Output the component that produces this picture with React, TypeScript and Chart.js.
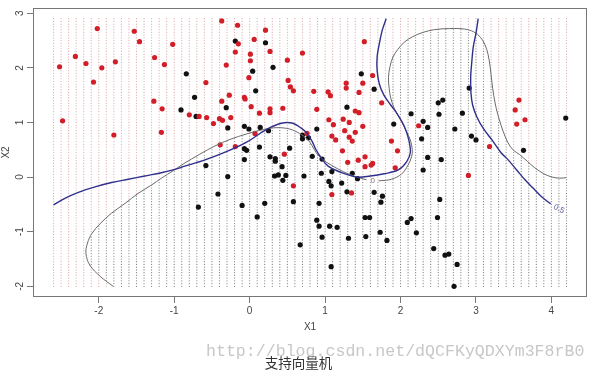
import React, { useEffect, useRef } from "react";
import { Chart, registerables } from "chart.js";
Chart.register(...registerables);

const xTicks = [-2, -1, 0, 1, 2, 3, 4];
const yTicks = [-2, -1, 0, 1, 2, 3];

const gridX = [
  -2.6, -2.5, -2.4, -2.3, -2.2, -2.1, -2, -1.9, -1.8, -1.7,
  -1.6, -1.5, -1.4, -1.3, -1.2, -1.1, -1, -0.9, -0.8, -0.7,
  -0.6, -0.5, -0.4, -0.3, -0.2, -0.1, 0, 0.1, 0.2, 0.3,
  0.4, 0.5, 0.6, 0.7, 0.8, 0.9, 1, 1.1, 1.2, 1.3,
  1.4, 1.5, 1.6, 1.7, 1.8, 1.9, 2, 2.1, 2.2, 2.3,
  2.4, 2.5, 2.6, 2.7, 2.8, 2.9, 3, 3.1, 3.2, 3.3,
  3.4, 3.5, 3.6, 3.7, 3.8, 3.9, 4, 4.1, 4.2,
];
const gridY = [
  -2, -1.95, -1.9, -1.85, -1.8, -1.75, -1.7, -1.65, -1.6, -1.55,
  -1.5, -1.45, -1.4, -1.35, -1.3, -1.25, -1.2, -1.15, -1.1, -1.05,
  -1, -0.95, -0.9, -0.85, -0.8, -0.75, -0.7, -0.65, -0.6, -0.55,
  -0.5, -0.45, -0.4, -0.35, -0.3, -0.25, -0.2, -0.15, -0.1, -0.05,
  0, 0.05, 0.1, 0.15, 0.2, 0.25, 0.3, 0.35, 0.4, 0.45,
  0.5, 0.55, 0.6, 0.65, 0.7, 0.75, 0.8, 0.85, 0.9, 0.95,
  1, 1.05, 1.1, 1.15, 1.2, 1.25, 1.3, 1.35, 1.4, 1.45,
  1.5, 1.55, 1.6, 1.65, 1.7, 1.75, 1.8, 1.85, 1.9, 1.95,
  2, 2.05, 2.1, 2.15, 2.2, 2.25, 2.3, 2.35, 2.4, 2.45,
  2.5, 2.55, 2.6, 2.65, 2.7, 2.75, 2.8, 2.85, 2.9,
];

const redPoints: [number, number][] = [
  [-2.02, 2.72], [-1.53, 2.67], [-1.46, 2.48], [-1.02, 2.43], [-2.31, 2.21],
  [-2.17, 2.08], [-2.52, 2.02], [-1.96, 2.0], [-1.78, 2.11], [-1.26, 2.19],
  [-1.13, 2.06], [-2.07, 1.74], [-1.27, 1.39], [-1.16, 1.25], [-2.48, 1.03],
  [-1.8, 0.77], [-1.17, 0.82], [-0.37, 2.86], [-0.16, 2.78], [0.21, 2.69],
  [0.06, 2.52], [-0.15, 2.44], [-0.19, 2.29], [0.27, 2.3], [0.01, 2.25],
  [0.01, 2.13], [0.5, 2.14], [0.7, 2.27], [-0.31, 2.05], [-0.01, 1.82],
  [0.51, 1.77], [0.54, 1.65], [0.58, 1.58], [0.85, 1.57], [-0.58, 1.73],
  [-0.27, 1.5], [-0.07, 1.46], [-0.06, 1.43], [-0.37, 1.39], [0.02, 1.29],
  [0.27, 1.25], [0.27, 1.18], [0.13, 1.17], [0.44, 1.26], [0.89, 1.24],
  [-0.8, 1.14], [-0.67, 1.11], [-0.57, 1.09], [-0.4, 1.07], [-0.36, 1.04],
  [-0.25, 1.09], [-0.48, 0.98], [-0.39, 0.59], [-0.19, 0.56], [0.07, 0.8],
  [0.46, 0.42], [0.76, 0.8], [1.52, 2.48], [1.63, 1.86], [1.5, 1.72],
  [1.28, 1.72], [1.28, 1.63], [1.45, 1.55], [1.04, 1.56], [1.07, 1.49],
  [1.75, 1.36], [1.4, 1.21], [1.45, 1.18], [1.05, 1.05], [1.24, 1.06],
  [1.32, 1.0], [1.11, 0.96], [1.5, 0.93], [1.26, 0.85], [1.4, 0.82],
  [1.09, 0.75], [1.14, 0.68], [1.32, 0.73], [1.36, 0.66], [1.88, 0.66],
  [2.24, 0.94], [1.23, 0.48], [1.96, 0.48], [3.57, 1.41], [3.52, 1.23],
  [3.65, 1.05], [3.54, 0.97], [3.18, 0.56], [1.53, 0.37], [1.44, 0.31],
  [1.3, 0.27], [1.53, 0.19], [1.61, 0.22], [1.63, 0.25], [1.93, 0.17],
  [1.09, -0.32], [1.35, -0.29], [0.58, -0.16], [2.9, 0.03],
];

const blackPoints: [number, number][] = [
  [-0.91, 1.23], [-0.19, 2.49], [0.21, 2.46], [0.31, 2.01], [0.04, 1.94],
  [-0.84, 1.89], [0.08, 1.58], [-0.73, 1.46], [-0.31, 1.27], [-0.71, 1.11],
  [-0.29, 0.9], [-0.07, 0.93], [-0.01, 0.88], [0.14, 0.91], [0.25, 0.85],
  [0.89, 0.88], [0.7, 0.77], [0.7, 0.7], [0.78, 0.72], [-0.07, 0.52],
  [-0.04, 0.49], [0.13, 0.55], [0.53, 0.53], [1.48, 1.89], [1.65, 1.61],
  [1.29, 1.28], [1.91, 0.97], [2.14, 1.16], [2.3, 1.02], [2.36, 0.91],
  [2.28, 0.7], [2.5, 1.36], [2.56, 1.41], [2.51, 1.15], [2.72, 0.88],
  [2.91, 1.63], [2.82, 1.17], [2.94, 0.75], [3.0, 0.68], [4.19, 1.08],
  [3.63, 0.49], [-0.58, 0.21], [-0.07, 0.32], [-0.29, 0.01], [-0.42, -0.31],
  [-0.68, -0.55], [-0.1, -0.52], [0.1, -0.73], [0.2, -0.48], [0.27, 0.37],
  [0.34, 0.34], [0.34, 0.29], [0.43, 0.19], [0.33, 0.02], [0.38, 0.04],
  [0.48, 0.03], [0.44, -0.06], [0.58, -0.45], [0.72, 0.02], [0.83, 0.38],
  [0.92, -0.48], [0.89, -0.79], [0.92, -0.9], [0.67, -1.24], [0.96, 0.33],
  [0.95, 0.07], [1.09, 0.1], [1.05, -0.08], [1.08, -0.16], [1.22, -0.11],
  [1.36, 0.07], [1.43, -0.03], [1.29, -0.27], [1.65, -0.28], [1.76, -0.35],
  [1.74, -0.46], [1.06, -0.9], [1.16, -0.92], [0.96, -1.1], [1.31, -1.12],
  [1.53, -0.74], [1.59, -0.74], [1.54, -1.09], [1.73, -1.01], [1.82, -1.16],
  [1.08, -1.64], [2.09, -0.83], [2.14, -0.76], [2.21, -1.02], [2.3, 0.13],
  [2.36, 0.36], [2.54, 0.32], [2.52, -0.41], [2.49, -0.74], [2.44, -1.31],
  [2.59, -1.43], [2.64, -1.41], [2.71, -2.0], [2.75, -1.6],
];

// SVM decision boundary (level 0), split where its "0" label sits
const svmBoundaryLeft: [number, number][] = [
  [-1.81, -2.0], [-1.98, -1.82], [-2.12, -1.61], [-2.17, -1.4], [-2.15, -1.21],
  [-2.09, -1.03], [-1.98, -0.85], [-1.83, -0.66], [-1.65, -0.48], [-1.48, -0.3],
  [-1.3, -0.145], [-1.17, -0.02], [-1.01, 0.12], [-0.88, 0.24], [-0.66, 0.42],
  [-0.46, 0.57], [-0.26, 0.69], [-0.04, 0.79], [0.18, 0.87], [0.36, 0.905],
  [0.53, 0.88], [0.66, 0.8], [0.76, 0.7], [0.83, 0.57], [0.88, 0.45],
  [0.96, 0.33], [1.08, 0.22], [1.24, 0.1], [1.4, 0.01], [1.55, -0.05],
];
const svmBoundaryRight: [number, number][] = [
  [1.71, -0.07], [1.88, -0.04], [2.015, 0.057], [2.1, 0.22], [2.147, 0.374],
  [2.156, 0.5], [2.13, 0.68], [2.08, 0.83], [2.0, 1.05], [1.92, 1.25],
  [1.87, 1.45], [1.85, 1.62], [1.84, 1.82], [1.86, 2.02], [1.9, 2.2],
  [1.96, 2.33], [2.05, 2.47], [2.16, 2.57], [2.3, 2.65], [2.45, 2.7],
  [2.65, 2.72], [2.85, 2.71], [2.97, 2.66], [3.06, 2.56], [3.12, 2.42],
  [3.16, 2.25], [3.19, 2.0], [3.21, 1.75], [3.235, 1.5], [3.27, 1.25],
  [3.31, 1.05], [3.36, 0.84], [3.42, 0.64], [3.49, 0.5], [3.58, 0.41],
  [3.68, 0.29], [3.78, 0.17], [3.9, 0.06], [4.01, 0.0], [4.11, -0.02], [4.2, -0.01],
];

// Bayes decision boundary (probability 0.5)
const bayesBoundaryLeft: [number, number][] = [
  [-2.6, -0.51], [-2.45, -0.39], [-2.27, -0.28], [-2.05, -0.18], [-1.83, -0.1],
  [-1.61, -0.04], [-1.39, 0.02], [-1.17, 0.08], [-0.99, 0.14], [-0.86, 0.2],
  [-0.6, 0.31], [-0.3, 0.47], [-0.04, 0.64], [0.22, 0.87], [0.42, 0.985],
  [0.56, 0.99], [0.68, 0.9], [0.76, 0.8], [0.83, 0.65], [0.88, 0.5],
  [0.95, 0.35], [1.04, 0.2], [1.22, 0.08], [1.42, 0.0], [1.6, 0.02],
  [1.78, 0.06], [1.97, 0.13], [2.08, 0.28], [2.13, 0.45], [2.11, 0.68],
  [2.05, 0.93], [1.96, 1.15], [1.87, 1.32], [1.78, 1.5], [1.72, 1.7],
  [1.69, 1.95], [1.69, 2.2], [1.72, 2.45], [1.76, 2.7], [1.81, 2.9],
];
const bayesBoundaryRight: [number, number][] = [
  [3.03, 2.9], [3.0, 2.63], [2.965, 2.39], [2.943, 2.08], [2.93, 1.84],
  [2.934, 1.54], [2.956, 1.32], [3.009, 1.11], [3.097, 0.89], [3.229, 0.65],
  [3.33, 0.45], [3.43, 0.31], [3.54, 0.13], [3.65, -0.05], [3.76, -0.205],
  [3.87, -0.36], [3.99, -0.49],
];

const labelSvm = { text: "0", x: 1.63, y: -0.07 };
const labelBayes = { text: "0.5", x: 4.1, y: -0.585 };

const svmBoundary = [...svmBoundaryLeft, ...svmBoundaryRight];
const blackRegion: [number, number][] = [
  ...svmBoundary,
  [4.6, -0.01],
  [4.6, -2.6],
  [-1.81, -2.6],
];

function inside(x: number, y: number, poly: [number, number][]) {
  let c = false;
  for (let i = 0, j = poly.length - 1; i < poly.length; j = i++) {
    const [xi, yi] = poly[i];
    const [xj, yj] = poly[j];
    if (yi > y !== yj > y && x < ((xj - xi) * (y - yi)) / (yj - yi) + xi) c = !c;
  }
  return c;
}

const toXY = (arr: [number, number][]) => arr.map(([x, y]) => ({ x, y }));

const FONT = "'Liberation Sans', Arial, sans-serif";

const framePlugin = {
  id: "frame",
  afterDatasetsDraw(chart: any) {
    const { ctx, chartArea: a, scales } = chart;
    ctx.save();
    ctx.strokeStyle = "#777";
    ctx.lineWidth = 1;
    ctx.strokeRect(a.left + 0.5, a.top + 0.5, a.right - a.left - 1, a.bottom - a.top - 1);
    ctx.font = "8px " + FONT;
    ctx.textAlign = "center";
    ctx.textBaseline = "middle";
    ctx.fillStyle = "#777";
    ctx.fillText(labelSvm.text, scales.x.getPixelForValue(labelSvm.x), scales.y.getPixelForValue(labelSvm.y));
    ctx.translate(scales.x.getPixelForValue(labelBayes.x), scales.y.getPixelForValue(labelBayes.y));
    ctx.rotate(0.45);
    ctx.fillStyle = "#5a5aa0";
    ctx.fillText(labelBayes.text, 0, 0);
    ctx.restore();
  },
};

export default function App() {
  const ref = useRef<HTMLCanvasElement>(null);
  useEffect(() => {
    const redGrid: { x: number; y: number }[] = [];
    const blackGrid: { x: number; y: number }[] = [];
    for (const gx of gridX) {
      for (const gy of gridY) {
        (inside(gx, gy, blackRegion) ? blackGrid : redGrid).push({ x: gx, y: gy });
      }
    }
    const chart = new Chart(ref.current as HTMLCanvasElement, {
      type: "scatter",
      data: {
        datasets: [
          {
            data: toXY(bayesBoundaryLeft), showLine: true, borderColor: "#30308c", borderWidth: 1.4,
            pointRadius: 0, tension: 0.35, order: 1,
          },
          {
            data: toXY(bayesBoundaryRight), showLine: true, borderColor: "#30308c", borderWidth: 1.4,
            pointRadius: 0, tension: 0.35, order: 1,
          },
          {
            data: toXY(svmBoundaryLeft), showLine: true, borderColor: "#6a6a6a", borderWidth: 1,
            pointRadius: 0, tension: 0.35, order: 2,
          },
          {
            data: toXY(svmBoundaryRight), showLine: true, borderColor: "#6a6a6a", borderWidth: 1,
            pointRadius: 0, tension: 0.35, order: 2,
          },
          {
            data: toXY(redPoints), backgroundColor: "rgb(210,30,40)", pointRadius: 2.6,
            pointBorderWidth: 0, order: 3,
          },
          {
            data: toXY(blackPoints), backgroundColor: "#111", pointRadius: 2.6,
            pointBorderWidth: 0, order: 3,
          },
          {
            data: redGrid, backgroundColor: "rgba(200,110,115,0.6)", pointRadius: 0.6,
            pointBorderWidth: 0, order: 4,
          },
          {
            data: blackGrid, backgroundColor: "rgba(40,40,40,0.6)", pointRadius: 0.6,
            pointBorderWidth: 0, order: 4,
          },
        ],
      },
      options: {
        animation: false,
        responsive: false,
        devicePixelRatio: 1,
        events: [],
        layout: { padding: { top: 8, right: 10, left: 0, bottom: 0 } },
        plugins: { legend: { display: false }, tooltip: { enabled: false } },
        scales: {
          x: {
            type: "linear",
            min: -2.872,
            max: 4.472,
            afterBuildTicks: (s: any) => {
              s.ticks = xTicks.map((v) => ({ value: v }));
            },
            afterFit: (s: any) => {
              s.height = 76;
            },
            grid: { drawOnChartArea: false, drawTicks: true, tickLength: 6, color: "#777" },
            border: { display: false },
            ticks: {
              autoSkip: false, maxRotation: 0, padding: 2, color: "#444",
              font: { family: FONT, size: 10 },
              callback: (v: any) => String(v),
            },
            title: {
              display: true, text: "X1", color: "#444",
              font: { family: FONT, size: 10 },
              padding: { top: 0, bottom: 40 },
            },
          },
          y: {
            type: "linear",
            min: -2.196,
            max: 3.096,
            afterBuildTicks: (s: any) => {
              s.ticks = yTicks.map((v) => ({ value: v }));
            },
            afterFit: (s: any) => {
              s.width = 33;
            },
            grid: { drawOnChartArea: false, drawTicks: true, tickLength: 6, color: "#777" },
            border: { display: false },
            ticks: {
              autoSkip: false, minRotation: 90, maxRotation: 90, crossAlign: "center",
              padding: 2, color: "#444",
              font: { family: FONT, size: 10 },
              callback: (v: any) => String(v),
            },
            title: {
              display: true, text: "X2", color: "#444",
              font: { family: FONT, size: 10 },
              padding: { top: 0, bottom: 0 },
            },
          },
        },
      },
      plugins: [framePlugin],
    } as any);
    return () => chart.destroy();
  }, []);

  return (
    <div style={{ position: "fixed", left: 0, top: 0, width: 597, height: 373, background: "#fff", overflow: "hidden" }}>
      <canvas ref={ref} width={597} height={373} style={{ position: "absolute", left: 0, top: 0, width: 597, height: 373 }} />
      <div
        style={{
          position: "absolute", left: 206, top: 343, whiteSpace: "nowrap",
          fontFamily: "'Liberation Mono', monospace", fontSize: 16.6, lineHeight: "18px",
          color: "rgba(185,185,185,0.8)",
        }}
      >
        http://blog.csdn.net/dQCFKyQDXYm3F8rB0
      </div>
      <div
        style={{
          position: "absolute", left: 0, top: 354, width: 597, textAlign: "center",
          fontFamily: "'Noto Sans CJK SC', sans-serif", fontSize: 13.5, lineHeight: "16px", color: "#333",
        }}
      >
        支持向量机
      </div>
    </div>
  );
}
